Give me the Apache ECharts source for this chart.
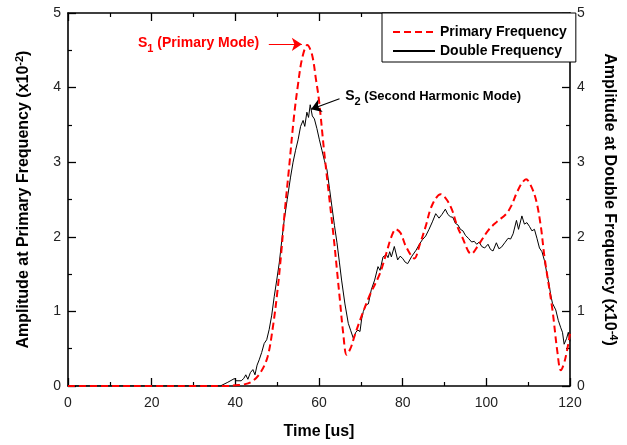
<!DOCTYPE html>
<html>
<head>
<meta charset="utf-8">
<script src="https://cdn.jsdelivr.net/npm/echarts@6/dist/echarts.min.js"></script>
<style>
  html, body { margin: 0; padding: 0; background: #fff; }
  #main { width: 627px; height: 445px; }
</style>
</head>
<body>
<div id="main"></div>
<script>
// Primary frequency amplitude (x10^-2) vs time [us]
const timePrimary = [0, 10, 20, 30, 38, 40, 42, 44, 46, 47.7, 49, 50.1, 51, 51.7, 52.8, 54, 55, 56, 57.2, 58.3, 59.3, 60, 61.2, 62.3, 63.5, 64.3, 65, 65.8, 66.6, 67.5, 68.5, 69.8, 72, 74.5, 76.1, 77.3, 78.4, 79.5, 80.8, 82.8, 84, 85.5, 87, 89.1, 90.5, 91.8, 93, 94.2, 96.4, 98, 100.5, 102.5, 104.8, 106, 107.2, 108.5, 109.5, 110.7, 111.9, 113, 113.9, 115.8, 117, 117.8, 118.8, 120];
const ampPrimary = [0, 0, 0, 0, 0, 0.01, 0.02, 0.06, 0.18, 0.39, 0.8, 1.29, 1.8, 2.27, 2.9, 3.6, 4.05, 4.4, 4.57, 4.45, 4.1, 3.83, 3.16, 2.6, 2.0, 1.55, 1.15, 0.7, 0.42, 0.5, 0.67, 0.88, 1.2, 1.5, 1.78, 2.0, 2.1, 2.05, 1.87, 1.71, 1.88, 2.14, 2.42, 2.57, 2.5, 2.36, 2.15, 2.0, 1.77, 1.88, 2.09, 2.2, 2.31, 2.42, 2.58, 2.72, 2.77, 2.68, 2.49, 2.15, 1.73, 1.02, 0.45, 0.21, 0.35, 0.7];

// Double frequency amplitude (x10^-4) vs time [us]
const timeDouble = [0, 10, 20, 30, 36.4, 38.2, 39.8, 40.2, 41.4, 42, 42.5, 43, 43.6, 44.2, 44.7, 45.2, 45.7, 46.3, 46.9, 47.5, 48.1, 48.7, 49.3, 49.9, 50.5, 51.1, 51.7, 52.4, 53.2, 53.8, 54.4, 55, 55.6, 56.2, 56.6, 57.1, 57.5, 57.9, 58.4, 58.9, 59.5, 60.1, 60.7, 61.3, 61.9, 62.5, 63.1, 63.7, 64.3, 64.9, 65.4, 66.2, 67, 67.6, 68.2, 68.8, 69.3, 69.8, 70.2, 70.6, 71.3, 71.8, 72.5, 73.3, 74.1, 74.6, 75.3, 76.1, 76.5, 76.9, 77.3, 78, 78.8, 79.4, 80, 80.6, 81.2, 82.2, 83.2, 84, 84.7, 85.5, 86.3, 87.1, 87.9, 88.7, 89.4, 90.2, 90.8, 91.4, 92, 92.6, 93.2, 93.8, 94.4, 95, 95.7, 96.5, 97.1, 97.7, 98.3, 98.9, 99.6, 100.4, 101, 101.6, 102.4, 103, 103.6, 104.4, 105.2, 105.8, 106.4, 107.2, 107.7, 108.5, 109.1, 109.7, 110.3, 110.9, 111.5, 112.1, 112.7, 113.3, 113.9, 114.5, 115, 115.4, 115.8, 116.6, 117.2, 117.8, 118.2, 118.6, 119.2, 119.6, 120];
const ampDouble = [0, 0, 0, 0, 0, 0.05, 0.1, 0.07, 0.07, 0.1, 0.15, 0.09, 0.18, 0.22, 0.15, 0.28, 0.35, 0.45, 0.57, 0.62, 0.76, 0.95, 1.2, 1.42, 1.65, 1.95, 2.23, 2.5, 2.8, 3.0, 3.16, 3.3, 3.48, 3.56, 3.48, 3.67, 3.6, 3.77, 3.62, 3.58, 3.45, 3.3, 3.16, 3.02, 2.9, 2.65, 2.4, 2.15, 1.92, 1.65, 1.42, 1.1, 0.84, 0.74, 0.64, 0.72, 0.75, 0.73, 0.9, 1.0, 1.09, 1.1, 1.29, 1.42, 1.6, 1.55, 1.73, 1.76, 1.72, 1.8, 1.73, 1.87, 1.69, 1.74, 1.71, 1.66, 1.64, 1.74, 1.82, 1.9, 1.96, 2.01, 2.1, 2.2, 2.31, 2.25, 2.3, 2.37, 2.3, 2.27, 2.26, 2.18, 2.16, 2.1, 2.08, 2.02, 1.98, 1.93, 1.94, 1.9, 1.93, 1.87, 1.85, 1.9, 1.83, 1.81, 1.92, 1.84, 1.86, 1.92, 1.98, 1.97, 2.04, 2.22, 2.1, 2.28, 2.17, 2.19, 2.14, 2.08, 2.1, 1.98, 1.85, 1.8, 1.68, 1.5, 1.36, 1.22, 1.11, 1.02, 0.88, 0.78, 0.72, 0.56, 0.64, 0.72, 0.6];

const xTicks = [0, 20, 40, 60, 80, 100, 120];
const yTicks = [0, 1, 2, 3, 4, 5];

const FONT = '"Liberation Sans", Arial, sans-serif';

const chart = echarts.init(document.getElementById('main'));

function zip(a, b) {
  return a.map((v, i) => [v, b[i]]);
}

// boxed frame with inward major + minor ticks on all four sides
function axisLook() {
  return {
    axisLine: { show: true, onZero: false, lineStyle: { color: '#000', width: 1.6 } },
    axisTick: { show: true, inside: true, length: 8, lineStyle: { color: '#000', width: 1.3 } },
    minorTick: { show: true, splitNumber: 2, length: 4, lineStyle: { color: '#000', width: 1.2 } },
    splitLine: { show: false }
  };
}

const labelStyle = { color: '#222', fontSize: 14, fontFamily: FONT };
const nameStyle = {
  color: '#000', fontSize: 16, fontWeight: 'bold', fontFamily: FONT,
  rich: {
    n: { fontSize: 16, fontWeight: 'bold', fontFamily: FONT, color: '#000', verticalAlign: 'bottom' },
    sup: { fontSize: 11, fontWeight: 'bold', fontFamily: FONT, color: '#000', verticalAlign: 'bottom', padding: [0, 0, 7, 0] }
  }
};

const option = {
  animation: false,
  backgroundColor: '#fff',
  grid: { left: 68, right: 51, top: 13, bottom: 59 },
  legend: {
    left: 382, top: 13,
    orient: 'vertical',
    backgroundColor: '#fff',
    borderColor: '#000', borderWidth: 1, borderRadius: 0,
    padding: [12, 9, 4, 10],
    itemGap: 5, itemWidth: 42, itemHeight: 14,
    itemStyle: { opacity: 0 },
    textStyle: { fontSize: 14, fontWeight: 'bold', fontFamily: FONT, color: '#000' },
    data: ['Primary Frequency', 'Double Frequency']
  },
  xAxis: [
    Object.assign({
      type: 'value', min: 0, max: 120, interval: 20, position: 'bottom',
      name: 'Time [us]', nameLocation: 'middle', nameGap: 38,
      nameTextStyle: { color: '#000', fontSize: 16, fontWeight: 'bold', fontFamily: FONT },
      axisLabel: { show: true, margin: 10, ...labelStyle, formatter: v => xTicks.includes(v) ? String(v) : '' }
    }, axisLook()),
    Object.assign({
      type: 'value', min: 0, max: 120, interval: 20, position: 'top',
      axisLabel: { show: false }
    }, axisLook())
  ],
  yAxis: [
    Object.assign({
      type: 'value', min: 0, max: 5, interval: 1, position: 'left',
      name: '{n|Amplitude at Primary Frequency (x10}{sup|-2}{n|)}',
      nameLocation: 'middle', nameGap: 36, nameRotate: 90,
      nameTextStyle: nameStyle,
      axisLabel: { show: true, margin: 7, ...labelStyle, formatter: v => yTicks.includes(v) ? String(v) : '' }
    }, axisLook()),
    Object.assign({
      type: 'value', min: 0, max: 5, interval: 1, position: 'right',
      name: '{n|Amplitude at Double Frequency (x10}{sup|-4}{n|)}',
      nameLocation: 'middle', nameGap: 31, nameRotate: -90,
      nameTextStyle: nameStyle,
      axisLabel: { show: true, margin: 7, ...labelStyle, formatter: v => yTicks.includes(v) ? String(v) : '' }
    }, axisLook())
  ],
  series: [
    {
      name: 'Primary Frequency',
      type: 'line',
      xAxisIndex: 0, yAxisIndex: 0,
      data: zip(timePrimary, ampPrimary),
      smooth: 0.35,
      symbol: 'none',
      z: 3,
      itemStyle: { color: '#ff0000' },
      lineStyle: { color: '#ff0000', width: 2, type: [7, 4] },
      markLine: {
        silent: true,
        symbol: ['none', 'arrow'],
        symbolSize: 10,
        label: { show: false },
        lineStyle: { color: '#ff0000', width: 1.2, type: 'solid' },
        data: [[{ coord: [48, 4.58] }, { coord: [55.9, 4.58] }]]
      },
      markPoint: {
        silent: true,
        symbol: 'circle', symbolSize: 0,
        data: [{
          coord: [46.2, 4.57],
          label: {
            show: true, position: 'left', distance: 2,
            formatter: '{a|S}{s|1}{a| (Primary Mode)}',
            rich: {
              a: { color: '#ff0000', fontSize: 14, fontWeight: 'bold', fontFamily: FONT, verticalAlign: 'top' },
              s: { color: '#ff0000', fontSize: 11, fontWeight: 'bold', fontFamily: FONT, verticalAlign: 'top', padding: [7, 0, 0, 0] }
            }
          }
        }]
      }
    },
    {
      name: 'Double Frequency',
      type: 'line',
      xAxisIndex: 0, yAxisIndex: 1,
      data: zip(timeDouble, ampDouble),
      symbol: 'none',
      z: 2,
      itemStyle: { color: '#000' },
      lineStyle: { color: '#000', width: 1 },
      markLine: {
        silent: true,
        symbol: ['none', 'arrow'],
        symbolSize: 10,
        label: { show: false },
        lineStyle: { color: '#000', width: 1.2, type: 'solid' },
        data: [[{ coord: [64.9, 3.85] }, { coord: [58.1, 3.71] }]]
      },
      markPoint: {
        silent: true,
        symbol: 'circle', symbolSize: 0,
        data: [{
          coord: [65.8, 3.86],
          label: {
            show: true, position: 'right', distance: 2,
            formatter: '{a|S}{s|2}{b| (Second Harmonic Mode)}',
            rich: {
              a: { color: '#000', fontSize: 14, fontWeight: 'bold', fontFamily: FONT, verticalAlign: 'top' },
              s: { color: '#000', fontSize: 11, fontWeight: 'bold', fontFamily: FONT, verticalAlign: 'top', padding: [7, 0, 0, 0] },
              b: { color: '#000', fontSize: 13, fontWeight: 'bold', fontFamily: FONT, verticalAlign: 'top', padding: [1, 0, 0, 0] }
            }
          }
        }]
      }
    }
  ]
};

chart.setOption(option);
</script>
</body>
</html>
